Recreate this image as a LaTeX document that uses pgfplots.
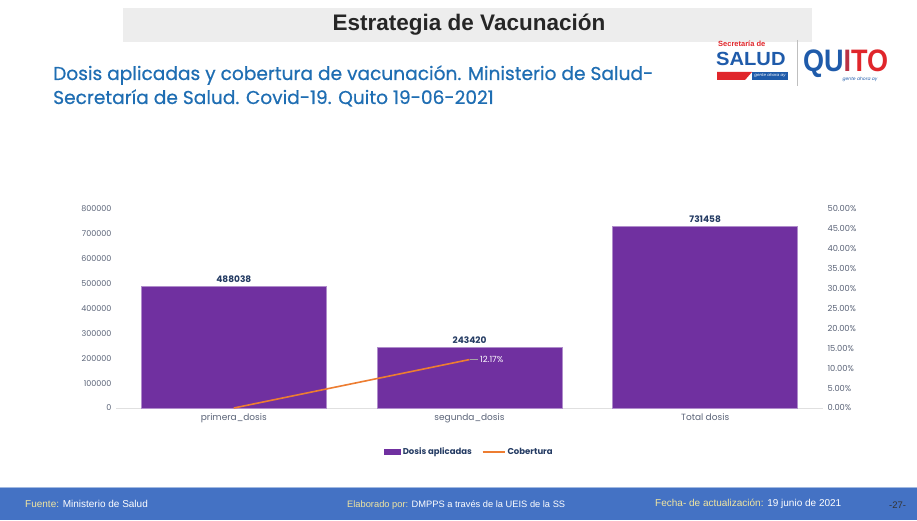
\documentclass[border=0pt]{standalone}
\usepackage{pgfplots}
\pgfplotsset{compat=1.18}
\usepackage{fontspec}
\setmainfont{Poppins}
\newfontfamily\arial{Liberation Sans}
\newfontfamily\subfont{Poppins}[FakeBold=0.6]
\definecolor{barpurple}{HTML}{7030A0}
\definecolor{orangeline}{HTML}{ED7D31}
\definecolor{navy}{HTML}{243B63}
\definecolor{ticklab}{HTML}{5B6478}
\definecolor{subblue}{HTML}{1F6EB3}
\definecolor{footblue}{HTML}{4472C4}
\definecolor{footyellow}{HTML}{F2E6A0}
\definecolor{logoblue}{HTML}{1F5BAA}
\definecolor{logored}{HTML}{E0262B}
\begin{document}
\begin{tikzpicture}[x=1pt,y=1pt]
\path[use as bounding box, fill=white] (0,0) rectangle (917,520);
% title band
\fill[black!7] (123,478) rectangle (812,512);
\node[font=\arial\bfseries\fontsize{22.5}{26}\selectfont, text=black!85] at (469,495) {Estrategia de Vacunación};
% subtitle
\node[anchor=base west, inner sep=0, font=\subfont\fontsize{18.6}{22}\selectfont, text=subblue] at (53,440) {Dosis aplicadas y cobertura de vacunación. Ministerio de Salud-};
\node[anchor=base west, inner sep=0, font=\subfont\fontsize{18.6}{22}\selectfont, text=subblue] at (53,416) {Secretaría de Salud. Covid-19. Quito 19-06-2021};
% logo
\node[anchor=base west, inner sep=0, font=\arial\bfseries\fontsize{7.5}{8}\selectfont, text=logored] at (718,473) {Secretaría de};
\node[anchor=base west, inner sep=0, font=\arial\bfseries\fontsize{19}{20}\selectfont, text=logoblue] at (716,454) {\scalebox{1.06}[1]{SALUD}};
\fill[logored] (717,448) -- (752,448) -- (745,440) -- (717,440) -- cycle;
\fill[logoblue] (752,448) rectangle (788,440);
\node[inner sep=0, font=\itshape\fontsize{4}{4}\selectfont, text=white] at (770,444) {gente ahora ay};
\draw[black!25, line width=0.8pt] (797,480) -- (797,434);
\node[anchor=base west, inner sep=0, font=\arial\bfseries\fontsize{27}{28}\selectfont] at (803,448) {\scalebox{1}[1.15]{\textcolor{logoblue}{QU}\textcolor{logored!80!logoblue}{I}\textcolor{logored}{TO}}};
\node[inner sep=0, font=\itshape\fontsize{4.5}{5}\selectfont, text=logoblue] at (860,441) {gente ahora ay};
% footer
\fill[footblue] (0,0) rectangle (917,32);
\fill[footblue!50] (0,32) rectangle (917,33.5);
\node[anchor=west, inner sep=0, font=\arial\fontsize{10}{11}\selectfont] at (25,16) {\textcolor{footyellow}{Fuente:} \textcolor{white}{Ministerio de Salud}};
\node[anchor=west, inner sep=0, font=\arial\fontsize{9.3}{11}\selectfont] at (347,15) {\textcolor{footyellow}{Elaborado por:} \textcolor{white}{DMPPS a través de la UEIS de la SS}};
\node[anchor=west, inner sep=0, font=\arial\fontsize{10}{11}\selectfont] at (655,16) {\textcolor{footyellow}{Fecha- de actualización:} \textcolor{white}{19 junio de 2021}};
\node[anchor=west, inner sep=0, font=\arial\fontsize{9.5}{10}\selectfont, text=black!80] at (889,15) {-27-};
% main axis
\begin{axis}[
  at={(116pt,112pt)}, anchor=south west,
  scale only axis, width=707pt, height=199pt,
  xmin=-0.5, xmax=2.5, ymin=0, ymax=800000,
  axis x line*=bottom, axis y line*=left,
  x axis line style={draw=black!12, line width=0.8pt, -},
  y axis line style={draw=none},
  major tick length=0pt,
  xtick={0,1,2}, xticklabels={primera\_dosis, segunda\_dosis, Total dosis},
  ytick={0,100000,...,800000},
  scaled y ticks=false,
  /pgf/number format/.cd, fixed, 1000 sep={}, assume math mode=true, /pgfplots/.cd,
  yticklabel style={font=\fontsize{8}{9}\selectfont, text=ticklab, xshift=-1pt},
  xticklabel style={font=\fontsize{9}{10}\selectfont, text=ticklab, yshift=-2pt},
  point meta=explicit symbolic,
  nodes near coords,
  nodes near coords style={font=\bfseries\fontsize{9}{10}\selectfont, text=navy, yshift=0pt},
  legend style={at={(0.5,-0.221)}, anchor=center, draw=none, fill=none,
    font=\bfseries\fontsize{8.5}{9}\selectfont, text=navy,
    /tikz/every even column/.append style={column sep=8pt}},
  legend columns=2,
  legend cell align=left,
]
\addplot[fill=barpurple, draw=barpurple!55, ybar, bar width=185pt,
  legend image code/.code={\fill[barpurple] (0pt,-2.4pt) rectangle (16pt,2.4pt);}]
  coordinates {(0,488038)[488038] (1,243420)[243420] (2,731458)[731458]};
\addlegendentry{Dosis aplicadas}
\addlegendimage{legend image code/.code={\draw[orangeline, line width=1.6pt] (0pt,0pt) -- (22pt,0pt);}}
\addlegendentry{Cobertura}
\end{axis}
% secondary axis
\begin{axis}[
  at={(116pt,112pt)}, anchor=south west,
  scale only axis, width=707pt, height=199pt,
  xmin=-0.5, xmax=2.5, ymin=0, ymax=50,
  axis x line=none, axis y line*=right,
  y axis line style={draw=none},
  major tick length=0pt,
  ytick={0,5,...,50},
  yticklabel={\pgfmathprintnumber[fixed, fixed zerofill, precision=2]{\tick}\%},
  /pgf/number format/assume math mode=true,
  yticklabel style={font=\fontsize{8.3}{9}\selectfont, text=ticklab, xshift=1pt},
]
\addplot[orangeline, line width=1.6pt] coordinates {(0,0) (1,12.17)}
  node[pos=1, inner sep=0, minimum size=0pt,
    pin={[pin distance=8pt, pin edge={black!35, line width=0.5pt}, inner sep=1pt, text=white, font=\fontsize{8.5}{9}\selectfont]0:12.17\%}] {};
\end{axis}
\end{tikzpicture}
\end{document}
